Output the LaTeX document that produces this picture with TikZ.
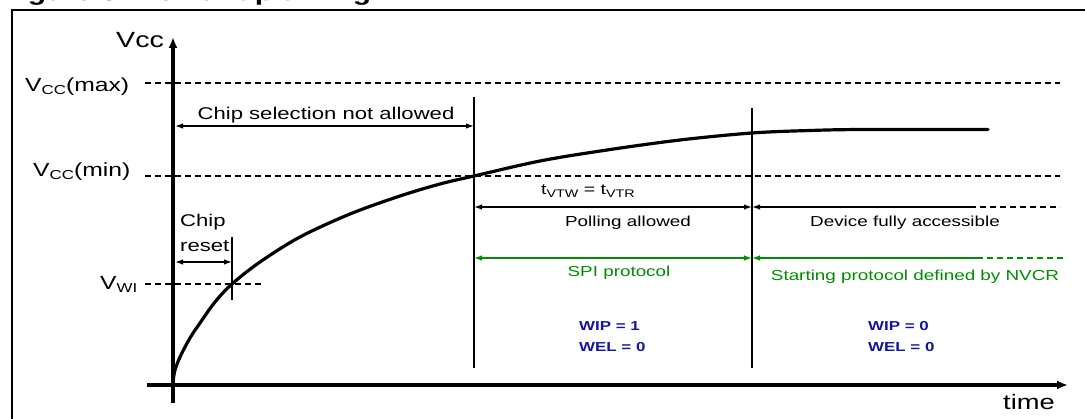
\documentclass[tikz,border=0pt]{standalone}
\usepackage{fontspec}
\setmainfont[FakeStretch=1.3]{Liberation Sans}
\usetikzlibrary{arrows.meta}
\definecolor{sgreen}{RGB}{0,140,0}
\definecolor{sblue}{RGB}{20,20,160}
\newcommand{\fs}[1]{\fontsize{#1}{#1}\selectfont}
\begin{document}
\begin{tikzpicture}[x=1pt,y=-1pt,
  txt/.style={inner sep=0pt, font=\fs{17}},
  smalltxt/.style={inner sep=0pt, font=\fs{14.5}},
  bluetxt/.style={inner sep=0pt, font=\bfseries\fs{13}, text=sblue, anchor=base west},
  dashline/.style={line width=1.2pt, dash pattern=on 6pt off 4pt},
  vline/.style={line width=1.5pt},
  dimarrow/.style={line width=1.3pt, {Latex[length=8pt,width=5.5pt]}-{Latex[length=8pt,width=5.5pt]}},
  leftarrow/.style={line width=1.3pt, {Latex[length=8pt,width=5.5pt]}-},
  axis/.style={-{Latex[length=11pt,width=9pt]}}
]
\useasboundingbox (0,0) rectangle (1085,419);
\begin{scope}
  \clip (0,0) rectangle (1085,419);
  \node[anchor=base west, inner sep=0pt, font=\bfseries\fs{23}] (title) at (1,0.5) {Figure 3. Power-up timing};
  \coordinate (fbl) at (12,430);
  \coordinate (ftl) at (12,10);
  \coordinate (ftr) at (1100,10);
  \draw[line width=2pt] (fbl) -- (ftl) -- (ftr);
\end{scope}

% coordinates
\coordinate (xs) at (147,385);
\coordinate (xe) at (1068,385);
\coordinate (ys) at (173,403);
\coordinate (ye) at (173,37);
\coordinate (maxs) at (145,83);
\coordinate (maxe) at (1060,83);
\coordinate (mins) at (145,176);
\coordinate (mine) at (1060,176);
\coordinate (wis) at (145,284);
\coordinate (wie) at (262,284);
\coordinate (m1t) at (474,97);
\coordinate (m1b) at (474,368);
\coordinate (m2t) at (752,108);
\coordinate (m2b) at (752,368);
\coordinate (m0t) at (232,237);
\coordinate (m0b) at (232,300);

% dashed levels
\draw[dashline] (maxs) -- (maxe);
\draw[dashline] (mins) -- (mine);
\draw[dashline] (wis) -- (wie);

% marker lines
\draw[vline] (m1t) -- (m1b);
\draw[vline] (m2t) -- (m2b);
\draw[vline] (m0t) -- (m0b);

% curve
\draw[line width=3.2pt, line cap=round] plot[smooth, tension=0.55] coordinates {(173,385) (174.5,372) (180,357) (190,338) (200,323) (215,302) (232,284) (260,262) (300,237) (350,214) (400,196) (440,184) (474,176) (540,161) (607,150) (680,140) (752,133) (810,130.5) (863,129.5) (988,129.5)};

% axes
\draw[axis, line width=3.5pt] (xs) -- (xe);
\draw[axis, line width=4.5pt] (ys) -- (ye);

% axis labels
\node[txt, anchor=base west, font=\fs{22}] (vcc) at (116,48) {Vcc};
\node[txt, anchor=base west, font=\fs{21}] (time) at (1003,410) {time};
\node[txt, anchor=base west, font=\fs{19}] (vmax) at (25,92) {V\raisebox{-3pt}{\fs{13}CC}(max)};
\node[txt, anchor=base west, font=\fs{19}] (vmin) at (33,177) {V\raisebox{-3pt}{\fs{13}CC}(min)};
\node[txt, anchor=base west, font=\fs{19}] (vwi) at (100,290) {V\raisebox{-3pt}{\fs{13}WI}};

% chip selection not allowed
\coordinate (cs1) at (175,126);
\coordinate (cs2) at (474,126);
\draw[dimarrow] (cs1) -- (cs2);
\node[txt, anchor=base] (cslbl) at (326,120) {Chip selection not allowed};

% chip reset
\coordinate (cr1) at (175,262);
\coordinate (cr2) at (232,262);
\draw[dimarrow] (cr1) -- (cr2);
\node[txt, anchor=base west] (chip) at (180,227) {Chip};
\node[txt, anchor=base west] (reset) at (180,252) {reset};

% polling / device
\coordinate (p1) at (474,207);
\coordinate (p2) at (752,207);
\coordinate (d2) at (970,207);
\coordinate (d3) at (1060,207);
\draw[dimarrow] (p1) -- (p2);
\draw[leftarrow] (p2) -- (d2);
\draw[dashline] (d2) -- (d3);
\node[txt, anchor=base west, font=\fs{15}] (tvtw) at (541,195) {t\raisebox{-3pt}{\fs{11}VTW} = t\raisebox{-3pt}{\fs{11}VTR}};
\node[smalltxt, anchor=base] (poll) at (628,227) {Polling allowed};
\node[smalltxt, anchor=base] (dev) at (905,227) {Device fully accessible};

% protocols (green)
\coordinate (g1) at (474,258);
\coordinate (g2) at (752,258);
\coordinate (g3) at (977,258);
\coordinate (g4) at (1063,258);
\draw[dimarrow, sgreen] (g1) -- (g2);
\draw[leftarrow, sgreen] (g2) -- (g3);
\draw[dashline, sgreen] (g3) -- (g4);
\node[smalltxt, anchor=base, text=sgreen] (spi) at (619,277) {SPI protocol};
\node[smalltxt, anchor=base, text=sgreen] (nvcr) at (915,281) {Starting protocol defined by NVCR};

% status bits
\node[bluetxt] (wip1) at (579,331) {WIP = 1};
\node[bluetxt] (wel1) at (579,352) {WEL = 0};
\node[bluetxt] (wip0) at (868,331) {WIP = 0};
\node[bluetxt] (wel0) at (868,352) {WEL = 0};
\end{tikzpicture}
\end{document}
